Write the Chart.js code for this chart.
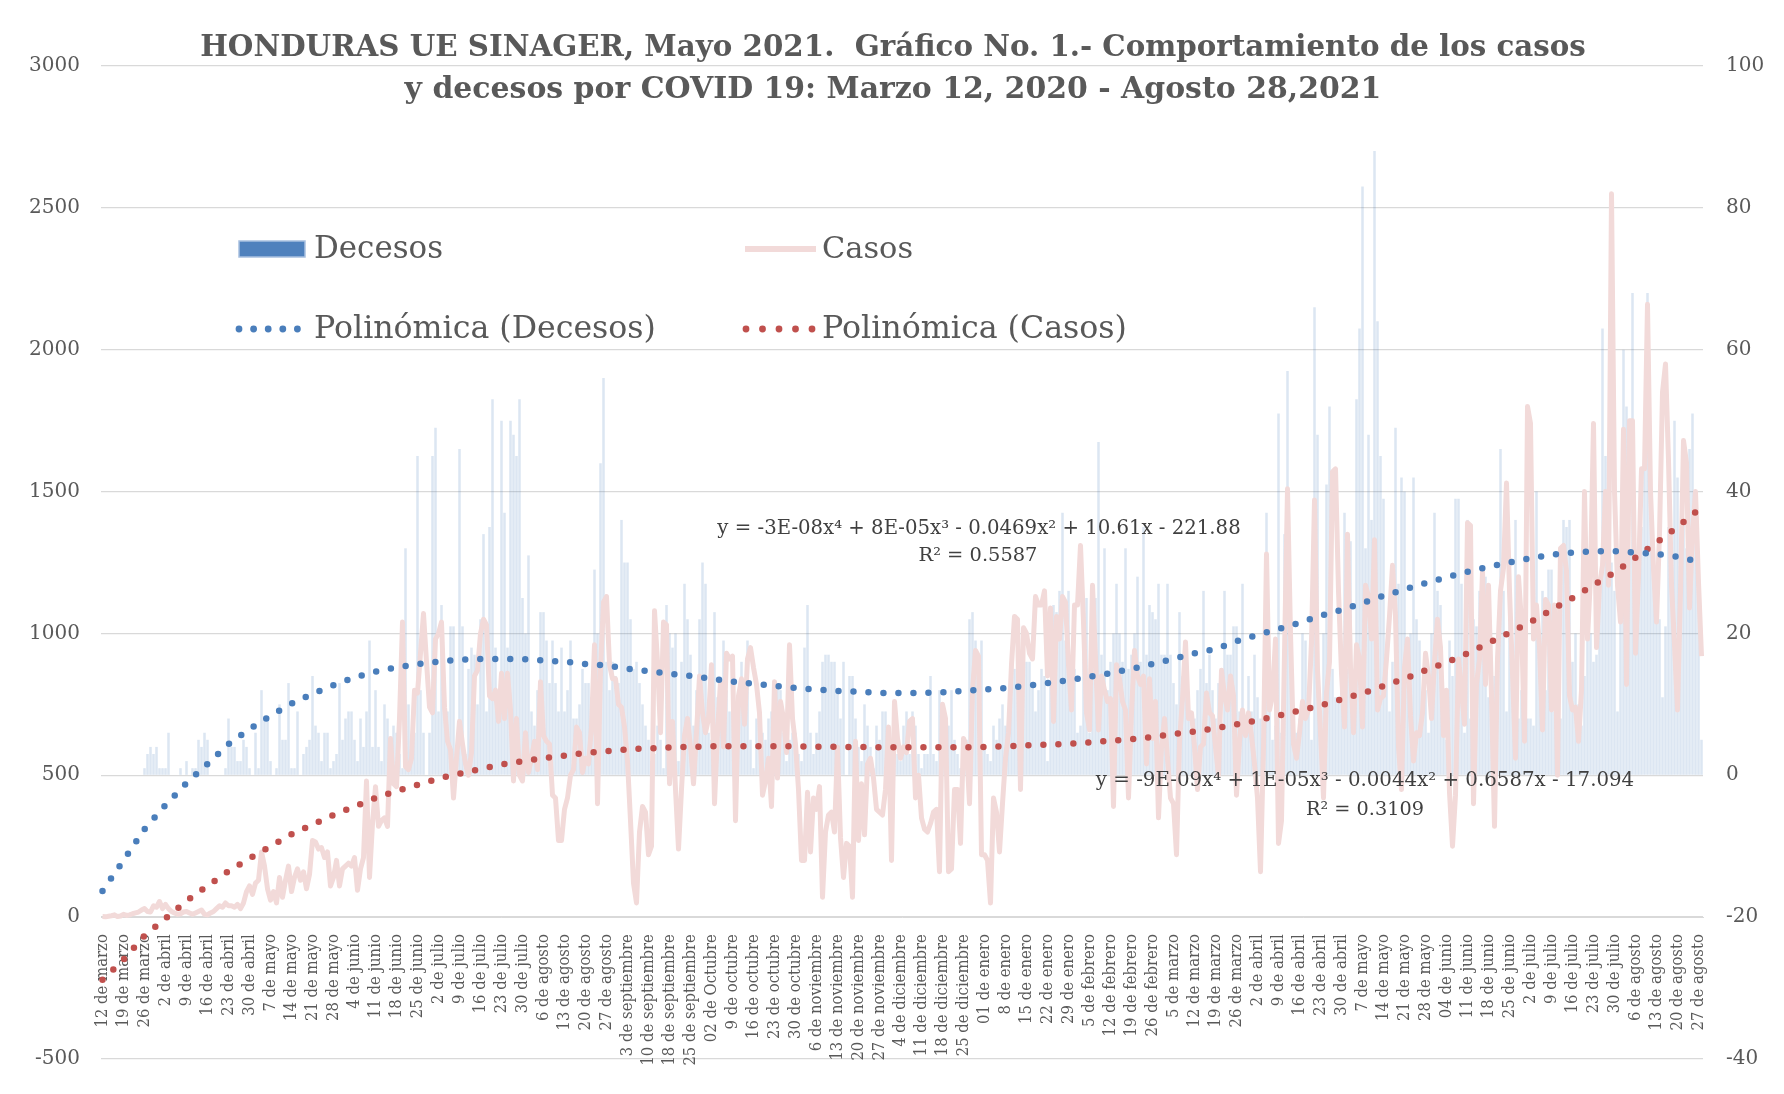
<!DOCTYPE html>
<html><head><meta charset="utf-8">
<script src="https://cdn.jsdelivr.net/npm/chart.js@4.4.1/dist/chart.umd.min.js"></script>
<style>html,body{margin:0;padding:0;background:#fff;}canvas{display:block;}</style>
</head><body>
<canvas id="c" width="1784" height="1094"></canvas>
<script>
const weekLabels = ["12 de marzo","19 de marzo","26 de marzo","2 de abril","9 de abril","16 de abril","23 de abril","30 de abril","7 de mayo","14 de mayo","21 de mayo","28 de mayo","4 de junio","11 de junio","18 de junio","25 de junio","2 de julio","9 de julio","16 de julio","23 de julio","30 de julio","6 de agosto","13 de agosto","20 de agosto","27 de agosto","3 de septiembre","10 de septiembre","18 de septiembre","25 de septiembre","02 de Octubre","9 de octubre","16 de octubre","23 de octubre","30 de octubre","6 de noviembre","13 de noviembre","20 de noviembre","27 de noviembre","4 de diciembre","11 de diciembre","18 de diciembre","25 de diciembre","01 de enero","8 de enero","15 de enero","22 de enero","29 de enero","5 de febrero","12 de febrero","19 de febrero","26 de febrero","5 de marzo","12 de marzo","19 de marzo","26 de marzo","2 de abril","9 de abril","16 de abril","23 de abril","30 de abril","7 de mayo","14 de mayo","21 de mayo","28 de mayo","04 de junio","11 de junio","18 de junio","25 de junio","2 de julio","9 de julio","16 de julio","23 de julio","30 de julio","6 de agosto","13 de agosto","20 de agosto","27 de agosto"];

const decesos = [
0,0,0,0,0,0,0,0,0,0, 0,0,0,0,1,3,4,3,4,1, 1,1,6,0,0,0,1,0,2,0, 1,1,5,4,6,5,0,0,0,0,
0,1,8,4,4,2,2,5,4,1, 0,6,1,12,8,8,2,0,1,10, 5,5,13,1,1,9,0,3,4,5, 14,7,6,2,6,6,1,2,3,13,
5,8,9,9,5,2,8,4,9,19, 4,12,4,2,10,8,5,7,6,3, 1,32,10,5,6,45,12,6,0,6, 45,49,9,24,13,9,21,21,3,46,
21,3,15,18,17,10,22,34,9,35, 53,18,8,50,37,18,50,48,45,53, 25,20,31,9,7,12,23,23,19,13, 19,13,9,18,9,12,19,8,8,10,
15,13,13,11,29,20,44,56,16,12, 16,14,13,36,30,30,22,15,16,13, 10,7,5,2,3,7,5,1,24,20, 18,20,2,16,27,22,17,7,12,22,
30,27,6,5,23,11,7,19,12,9, 13,9,10,16,7,19,5,1,8,8, 6,5,8,9,4,13,12,6,2,5, 6,6,3,2,18,24,6,3,6,9,
16,17,17,16,16,12,8,16,0,14, 14,8,4,2,10,7,4,1,7,5, 9,9,6,4,8,3,2,7,9,3, 9,7,3,1,3,3,14,3,2,12,
5,3,7,12,5,3,1,1,5,22, 23,19,16,19,4,3,2,7,5,8, 10,7,9,13,15,19,5,15,16,16, 13,9,12,15,14,2,13,24,23,26,
37,19,26,10,15,6,7,24,25,6, 27,25,47,17,32,12,16,20,27,20, 16,32,15,17,20,28,16,35,17,24, 23,22,27,17,17,27,17,13,10,23,
14,12,9,6,8,12,15,26,13,17, 12,8,13,7,26,17,17,21,21,9, 27,7,14,9,17,11,8,6,37,11, 5,7,51,6,34,57,15,9,6,8,
20,19,12,5,66,48,8,20,41,52, 15,11,11,16,37,15,33,14,53,63, 83,32,48,36,88,64,45,39,16,9, 16,49,27,42,40,15,20,42,22,19,
10,12,6,20,37,26,24,6,5,19, 14,39,39,27,6,36,8,22,21,26, 29,28,11,8,14,19,46,26,9,23, 12,36,8,12,6,8,8,7,40,16,
26,12,29,29,9,6,8,36,35,36, 16,20,10,7,14,23,20,16,17,25, 63,45,40,30,26,9,31,60,52,31, 68,18,26,35,43,68,39,29,25,22,
11,21,35,24,50,42,25,36,32,46, 51,33,30,5
];

const casos = [
2,1,3,5,8,2,4,10,6,8, 12,15,18,25,30,20,18,40,35,55, 30,45,30,20,15,10,12,18,20,15, 10,15,20,25,10,8,15,20,30,40,
35,50,40,40,35,45,30,50,90,110, 80,120,130,230,180,100,60,90,50,140, 70,130,180,90,140,170,130,160,100,150, 270,265,240,245,210,230,110,140,200,110,
170,180,190,180,210,95,170,210,480,140, 330,460,320,340,350,320,630,470,460,700, 1040,530,520,560,800,790,930,1070,900,740, 720,980,1000,1040,740,620,590,420,560,690,
610,540,500,580,850,870,1000,1050,1030,780, 770,800,690,860,700,860,730,480,700,500, 480,650,510,560,620,520,830,640,620,610, 430,420,270,270,380,420,500,520,670,650,
510,560,540,670,960,400,870,1110,1130,890, 840,840,750,740,670,550,340,120,50,300, 390,370,220,250,1080,900,650,1040,1030,470, 690,450,240,450,640,700,600,470,650,850,
720,650,700,890,400,650,830,600,930,910, 920,340,780,840,680,910,950,880,820,720, 430,480,560,390,830,490,760,700,580,960, 700,610,450,200,200,440,230,420,380,460,
70,300,360,370,300,600,280,140,260,250, 70,620,270,470,290,540,560,490,380,370, 360,450,670,200,760,630,560,600,580,690, 700,420,500,350,310,300,330,370,380,160,
750,700,160,170,450,450,260,630,600,400, 800,940,920,220,220,200,50,420,370,230, 400,560,650,890,1060,1050,450,1020,1000,930, 910,1130,1100,1100,1150,850,1090,690,1060,980,
1130,1110,890,730,1100,1100,1310,1040,720,660, 1170,910,660,850,800,760,770,390,890,840, 760,730,420,720,940,850,820,850,540,840, 630,760,350,600,700,560,420,400,220,620,
770,970,700,720,600,450,600,610,790,720, 710,600,500,870,780,730,850,780,430,620, 730,640,720,640,540,420,160,600,1280,730, 780,980,260,340,930,1510,1000,610,560,650,
760,700,730,970,1470,870,650,420,790,900, 1570,1580,1150,860,670,1350,880,650,960,910, 670,1170,1130,980,1330,730,770,780,910,1060, 1240,1060,600,450,880,980,710,550,650,640,
720,930,850,700,900,1050,950,640,800,440, 250,430,910,800,680,1390,1380,400,820,910, 1220,820,1170,780,320,910,1150,1230,1530,1150, 860,560,1200,1040,620,1800,1740,980,1100,950,
660,1120,1100,730,1100,500,1300,1310,1220,780, 730,740,620,800,1500,980,1200,1740,950,1170, 1240,1500,1170,2550,1500,1170,1040,1720,820,1750, 1750,930,1200,1580,1580,2160,1500,1230,1040,1350,
1850,1950,1610,1170,960,730,1150,1680,1600,1090, 1350,1500,1180,920
];

// trend readings (one value per weekly label position)
const trendDecesosWeekly = [-16.3,-12,-7.6,-4.2,-1.1,1.6,4.4,6.5,8.4,10.1,11.5,12.7,13.8,14.6,15.2,15.7,16.0,16.3,16.4,16.4,16.4,16.2,16.0,15.7,15.5,15.0,14.7,14.3,14.0,13.6,13.2,12.9,12.6,12.3,12.1,11.9,11.8,11.6,11.6,11.6,11.7,11.9,12.1,12.3,12.6,13.0,13.4,13.9,14.4,15.0,15.7,16.4,17.2,17.8,18.9,19.8,20.6,21.5,22.5,23.3,24.3,25.3,26.2,27.1,27.9,28.7,29.4,30.0,30.6,31.1,31.4,31.6,31.6,31.4,31.2,30.8,30.1];
const trendCasosWeekly = [-221,-150,-65,-5,57,110,162,207,250,292,326,360,390,420,445,466,489,506,522,538,550,560,569,579,585,591,595,598,600,602,602,602,602,602,601,600,600,599,599,599,599,599,600,602,606,608,611,616,622,627,635,645,654,666,679,694,710,728,746,768,789,815,840,870,898,930,966,1003,1040,1083,1125,1170,1215,1267,1320,1375,1436];

const titleLines = ["HONDURAS UE SINAGER, Mayo 2021.  Gráfico No. 1.- Comportamiento de los casos", "y decesos por COVID 19: Marzo 12, 2020 - Agosto 28,2021"];
const seriesNames = ["Decesos", "Casos", "Polinómica (Decesos)", "Polinómica (Casos)"];
const eqCasos = ["y = -3E-08x⁴ + 8E-05x³ - 0.0469x² + 10.61x - 221.88", "R² = 0.5587"];
const eqDecesos = ["y = -9E-09x⁴ + 1E-05x³ - 0.0044x² + 0.6587x - 17.094", "R² = 0.3109"];

const N = casos.length;
const categories = Array.from({length: N}, (_, i) => (i % 7 === 0 && weekLabels[i / 7]) ? weekLabels[i / 7] : '');
const trendDec = new Array(N).fill(null);
trendDecesosWeekly.forEach((v, k) => { if (k * 7 < N) trendDec[k * 7] = v; });
const trendCas = new Array(N).fill(null);
trendCasosWeekly.forEach((v, k) => { if (k * 7 < N) trendCas[k * 7] = v; });

const BLUE = '#4a7ebb', RED = '#c0504d', PINK = 'rgb(242,218,217)', BAR = 'rgba(79,129,189,0.2)';
const SERIF = '"DejaVu Serif", "Liberation Serif", serif';

function fitText(ctx, text, weight, targetW, x, y, color, align) {
  ctx.font = weight + ' 20px ' + SERIF;
  const w = ctx.measureText(text).width;
  const size = 20 * targetW / w;
  ctx.font = weight + ' ' + size.toFixed(2) + 'px ' + SERIF;
  ctx.fillStyle = color;
  ctx.textAlign = align || 'center';
  ctx.textBaseline = 'middle';
  ctx.fillText(text, x, y);
}

const decor = {
  id: 'decor',
  afterDraw(chart) {
    const ctx = chart.ctx;
    ctx.save();
    fitText(ctx, titleLines[0], 'bold', 1386, 893, 48, '#595959');
    fitText(ctx, titleLines[1], 'bold', 977, 893, 90, '#595959');
    ctx.fillStyle = '#4f81bd';
    ctx.fillRect(239, 241, 66, 16);
    ctx.strokeStyle = '#a8c0e0'; ctx.lineWidth = 1.5;
    ctx.strokeRect(239, 241, 66, 16);
    ctx.strokeStyle = PINK; ctx.lineWidth = 6; ctx.lineCap = 'butt';
    ctx.beginPath(); ctx.moveTo(745, 249); ctx.lineTo(816, 249); ctx.stroke();
    for (let k = 0; k < 5; k++) {
      ctx.fillStyle = BLUE; ctx.beginPath(); ctx.arc(239 + k * 14.6, 329, 3.4, 0, Math.PI * 2); ctx.fill();
      ctx.fillStyle = RED; ctx.beginPath(); ctx.arc(746 + k * 16.5, 329, 3.4, 0, Math.PI * 2); ctx.fill();
    }
    fitText(ctx, seriesNames[0], 'normal', 129, 314, 250, '#595959', 'left');
    fitText(ctx, seriesNames[1], 'normal', 91, 822, 250, '#595959', 'left');
    fitText(ctx, seriesNames[2], 'normal', 342, 314, 330, '#595959', 'left');
    fitText(ctx, seriesNames[3], 'normal', 305, 822, 330, '#595959', 'left');
    fitText(ctx, eqCasos[0], 'normal', 524, 979, 529, '#404040');
    fitText(ctx, eqCasos[1], 'normal', 119, 978, 556, '#404040');
    fitText(ctx, eqDecesos[0], 'normal', 539, 1365, 781, '#404040');
    fitText(ctx, eqDecesos[1], 'normal', 118, 1365, 810, '#404040');
    ctx.restore();
  }
};

new Chart(document.getElementById('c'), {
  type: 'bar',
  data: {
    labels: categories,
    datasets: [
      { type: 'line', label: seriesNames[2], data: trendDec, yAxisID: 'y2', borderColor: BLUE, borderWidth: 6.5,
        borderDash: [0, 15], borderCapStyle: 'round', pointRadius: 0, spanGaps: true, tension: 0, order: 0 },
      { type: 'line', label: seriesNames[3], data: trendCas, yAxisID: 'y', borderColor: RED, borderWidth: 6.5,
        borderDash: [0, 15], borderCapStyle: 'round', pointRadius: 0, spanGaps: true, tension: 0, order: 1 },
      { type: 'line', label: seriesNames[1], data: casos, yAxisID: 'y', borderColor: PINK, borderWidth: 5,
        borderJoinStyle: 'round', pointRadius: 0, tension: 0, order: 2 },
      { type: 'bar', label: seriesNames[0], data: decesos, yAxisID: 'y2', backgroundColor: BAR,
        barPercentage: 0.85, categoryPercentage: 1, order: 3 }
    ]
  },
  options: {
    responsive: false,
    animation: false,
    devicePixelRatio: 1,
    layout: { padding: { top: 66, bottom: 18, left: 0, right: 0 } },
    plugins: { legend: { display: false }, tooltip: { enabled: false }, title: { display: false } },
    scales: {
      x: {
        type: 'category',
        position: { y: 0 },
        offset: true,
        grid: { display: false },
        border: { display: true, color: '#d9d9d9' },
        ticks: { autoSkip: false, minRotation: 90, maxRotation: 90, padding: 9, color: '#595959',
                 font: { family: '"DejaVu Serif Condensed", "DejaVu Serif", serif', size: 16.5 } }
      },
      y: {
        position: 'left', min: -500, max: 3000,
        ticks: { stepSize: 500, padding: 21, color: '#595959', font: { family: SERIF, size: 20 },
                 callback: v => String(v) },
        grid: { color: '#d9d9d9', lineWidth: 1.3, drawTicks: false },
        border: { display: false },
        afterFit: s => { s.width = 101; }
      },
      y2: {
        position: 'right', min: -40, max: 100,
        ticks: { stepSize: 20, padding: 23, color: '#595959', font: { family: SERIF, size: 20 },
                 callback: v => String(v) },
        grid: { drawOnChartArea: false, drawTicks: false },
        border: { display: false },
        afterFit: s => { s.width = 81; }
      }
    }
  },
  plugins: [decor]
});
</script>
</body></html>
